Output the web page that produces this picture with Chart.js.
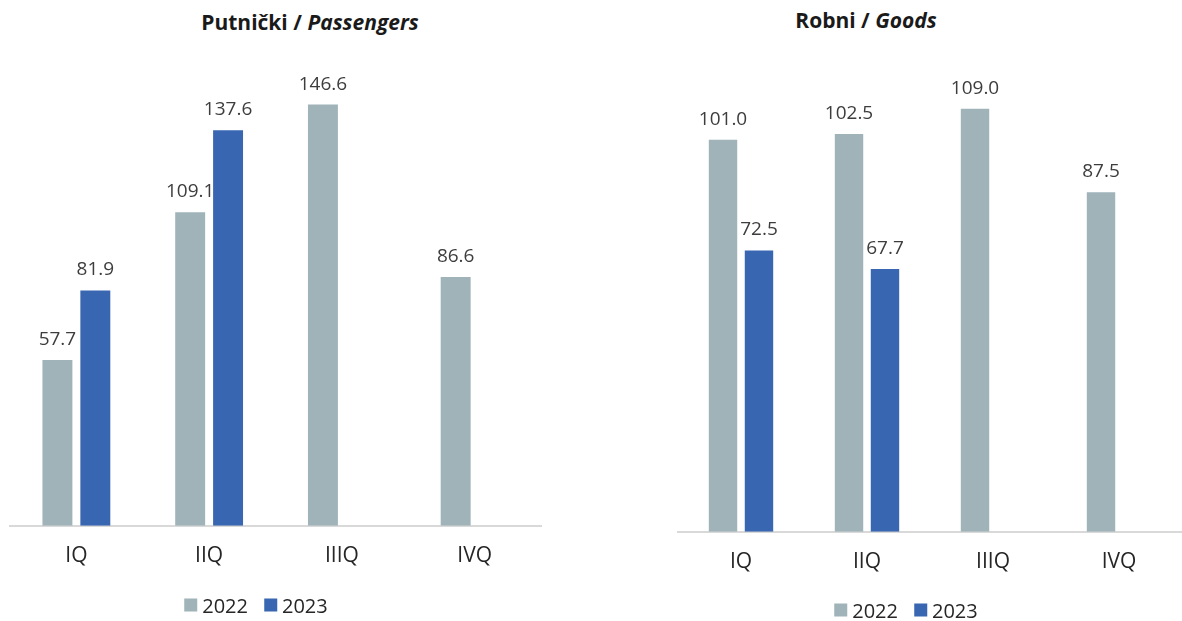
<!DOCTYPE html>
<html>
<head>
<meta charset="utf-8">
<script src="https://cdn.jsdelivr.net/npm/chart.js@4"></script>
<style>
  body { margin: 0; background: #fff; width: 1182px; height: 621px; overflow: hidden; position: relative; font-family: "Open Sans", sans-serif; }
  .title { position: absolute; font-size: 21px; font-weight: bold; color: #1a1a1a; white-space: nowrap; transform: translate(-50%, -50%); }
  .title i { font-style: italic; }
  .box { position: absolute; top: 0; }
  .legend { position: absolute; display: flex; align-items: center; transform: translate(-50%, -50%); font-size: 20px; color: #262626; white-space: nowrap; }
  .legend span.sw { display: inline-block; width: 13px; height: 13px; margin-right: 5px; }
  .legend span.item { display: inline-flex; align-items: center; margin-right: 16px; }
  .legend span.item:last-child { margin-right: 0; }
</style>
</head>
<body>
<div class="title" style="left:310px; top:22px;">Putnički / <i>Passengers</i></div>
<div class="title" style="left:866px; top:20px;">Robni / <i>Goods</i></div>
<div class="box" style="left:0; width:560px; height:621px;"><canvas id="left"></canvas></div>
<div class="box" style="left:600px; width:582px; height:621px;"><canvas id="right"></canvas></div>
<div class="legend" id="legLeft" style="left:256px; top:605px;"></div>
<div class="legend" id="legRight" style="left:906px; top:610px;"></div>
<script>
// quarters and values
const quarters = ['IQ', 'IIQ', 'IIIQ', 'IVQ'];
const years = ['2022', '2023'];
const passengers2022 = [57.7, 109.1, 146.6, 86.6];
const passengers2023 = [81.9, 137.6, null, null];
const goods2022 = [101.0, 102.5, 109.0, 87.5];
const goods2023 = [72.5, 67.7, null, null];

const colors = ['#9fb3b9', '#3866b1'];
const font = '"Open Sans", sans-serif';

// value labels above the bars
const valueLabels = {
  id: 'valueLabels',
  afterDatasetsDraw(chart) {
    const ctx = chart.ctx;
    ctx.save();
    ctx.font = `19px ${font}`;
    ctx.fillStyle = '#3d3d3d';
    ctx.textAlign = 'center';
    ctx.textBaseline = 'alphabetic';
    chart.data.datasets.forEach((ds, i) => {
      chart.getDatasetMeta(i).data.forEach((bar, j) => {
        const v = ds.data[j];
        if (v == null) return;
        ctx.fillText(v.toFixed(1), bar.x, bar.y - 15);
      });
    });
    ctx.restore();
  }
};

// legend built from the same year list / colours
function buildLegend(el) {
  el.innerHTML = years.map((y, i) =>
    `<span class="item"><span class="sw" style="background:${colors[i]}"></span>${y}</span>`).join('');
}

function makeChart(id, a, b, yMax, pad) {
  return new Chart(document.getElementById(id), {
    type: 'bar',
    data: {
      labels: quarters,
      datasets: [
        { label: years[0], data: a, backgroundColor: colors[0] },
        { label: years[1], data: b, backgroundColor: colors[1] },
      ],
    },
    options: {
      responsive: true,
      maintainAspectRatio: false,
      animation: false,
      categoryPercentage: 0.571,
      barPercentage: 0.79,
      layout: { padding: pad },
      plugins: {
        legend: { display: false },
        tooltip: { enabled: false },
      },
      scales: {
        x: {
          grid: { display: false },
          border: { color: '#d9d9d9', width: 2 },
          ticks: { color: '#262626', padding: 10, font: { family: font, size: 21 } },
        },
        y: { display: false, min: 0, max: yMax },
      },
    },
    plugins: [valueLabels],
  });
}

makeChart('left', passengers2022, passengers2023, 160, { top: 66, left: 10, right: 19, bottom: 42 });
makeChart('right', goods2022, goods2023, 120, { top: 66, left: 78, right: 0, bottom: 36 });
buildLegend(document.getElementById('legLeft'));
buildLegend(document.getElementById('legRight'));
</script>
</body>
</html>
